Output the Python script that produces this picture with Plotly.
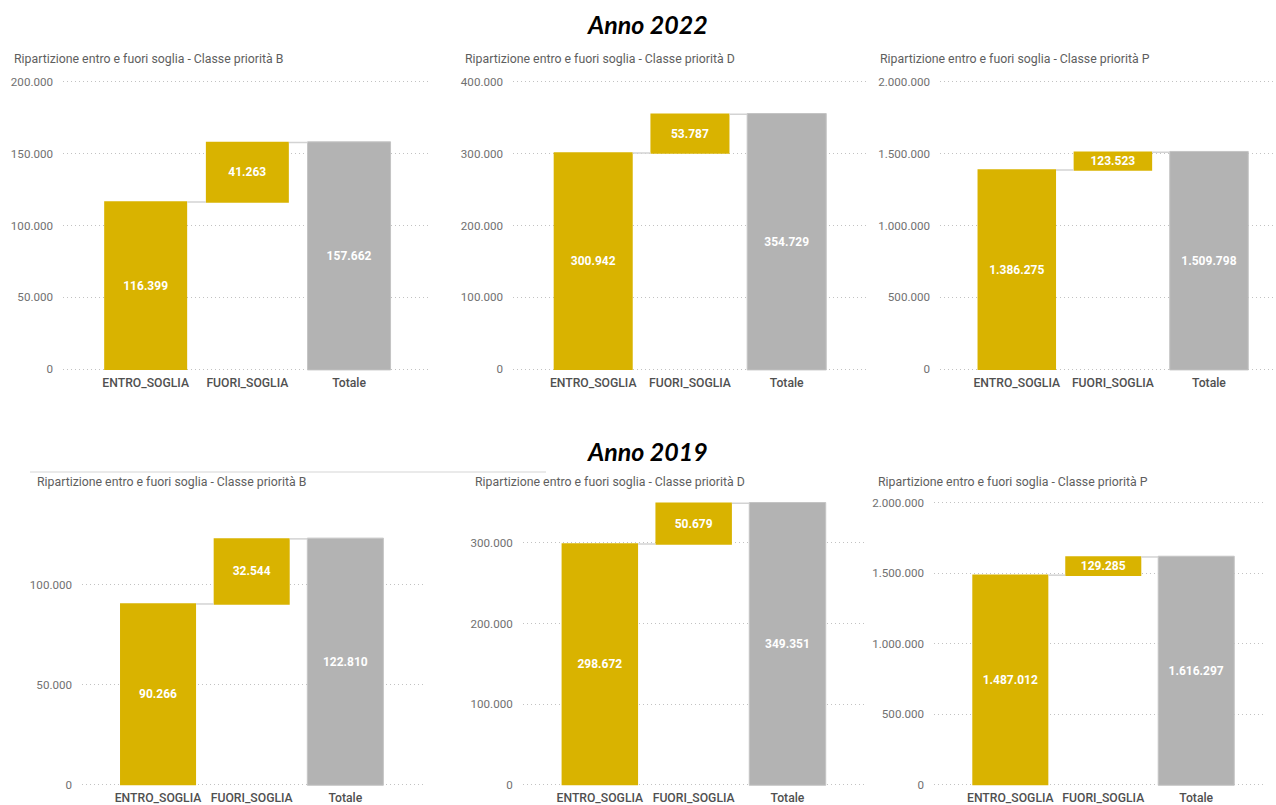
import plotly.graph_objects as go

# ---- data ----------------------------------------------------------------
categories = ["ENTRO_SOGLIA", "FUORI_SOGLIA", "Totale"]
classi = ["B", "D", "P"]

entro_2022 = [116399, 300942, 1386275]
fuori_2022 = [41263, 53787, 123523]

entro_2019 = [90266, 298672, 1487012]
fuori_2019 = [32544, 50679, 129285]

tick_step_2022 = [50000, 100000, 500000]
tick_step_2019 = [50000, 100000, 500000]
y_max_2022 = [200000, 400000, 2000000]
y_max_2019 = [142250, 353400, 2021000]

# ---- styling ---------------------------------------------------------------
W, H = 1276, 805
GOLD = "#D9B300"
GREY = "#B3B3B3"
FONT = "Roboto"

# plot-area boxes in pixels: (left, right, top, bottom), category range, bar width
panel_boxes = [
    (63, 430, 81.7, 369.3, [-0.813, 2.796], 0.816),
    (513, 867, 81.7, 369.3, [-0.829, 2.830], 0.817),
    (940, 1273, 81.7, 369.3, [-0.799, 2.666], 0.817),
    (82, 424, 500, 784.5, [-0.812, 2.840], 0.812),
    (522.7, 865, 500, 784.5, [-0.822, 2.826], 0.815),
    (934, 1264, 500, 784.5, [-0.821, 2.729], 0.818),
]
title_pos = [(12, 59), (463, 59), (878, 59), (35, 481.7), (473, 481.7), (876, 481.7)]


def fx(px):
    return px / W


def fy(py):
    return 1 - py / H


def fmt(v):
    return f"{v:,}".replace(",", ".")


panels = []
for i in range(3):
    panels.append((classi[i], entro_2022[i], fuori_2022[i], y_max_2022[i], tick_step_2022[i]))
for i in range(3):
    panels.append((classi[i], entro_2019[i], fuori_2019[i], y_max_2019[i], tick_step_2019[i]))

fig = go.Figure()
layout_axes = {}
annotations = []

for k, (classe, entro, fuori, ymax, step) in enumerate(panels):
    n = k + 1
    xa = "x" if n == 1 else f"x{n}"
    ya = "y" if n == 1 else f"y{n}"
    left, right, top, bottom, xr, bw = panel_boxes[k]
    totale = entro + fuori

    # a little room above and below so the edge gridlines are drawn
    per_px = ymax / (bottom - top)
    pad_px = 1.5

    fig.add_trace(go.Waterfall(
        x=categories,
        y=[entro, fuori, 0],
        measure=["relative", "relative", "total"],
        text=[fmt(entro), fmt(fuori), fmt(totale)],
        textposition="inside",
        insidetextanchor="middle",
        textfont=dict(family=FONT, size=12, color="white", weight="bold"),
        increasing=dict(marker=dict(color=GOLD)),
        decreasing=dict(marker=dict(color=GOLD)),
        totals=dict(marker=dict(color=GREY, line=dict(color="#C4C4C4", width=1))),
        connector=dict(line=dict(color="#D3D3D3", width=1.5)),
        width=bw,
        hoverinfo="x+y",
        showlegend=False,
        xaxis=xa,
        yaxis=ya,
    ))

    xkey = "xaxis" if n == 1 else f"xaxis{n}"
    ykey = "yaxis" if n == 1 else f"yaxis{n}"
    layout_axes[xkey] = dict(
        domain=[fx(left), fx(right)],
        anchor=ya,
        type="category",
        range=xr,
        automargin=False,
        showgrid=False,
        showline=False,
        zeroline=False,
        ticks="",
        ticklabelstandoff=3,
        tickfont=dict(family=FONT, size=12.2, color="#505050", weight=500),
        fixedrange=True,
    )
    layout_axes[ykey] = dict(
        domain=[fy(bottom + pad_px), fy(top - pad_px)],
        anchor=xa,
        range=[-pad_px * per_px, ymax + pad_px * per_px],
        automargin=False,
        tickmode="linear",
        tick0=0,
        dtick=step,
        tickformat=",d",
        showgrid=True,
        gridcolor="#C2C2C2",
        griddash="1px,3px",
        gridwidth=1,
        zeroline=False,
        showline=False,
        ticks="",
        ticklabelstandoff=9,
        tickfont=dict(family=FONT, size=11.6, color="#707070"),
        fixedrange=True,
    )

    tx, ty = title_pos[k]
    annotations.append(dict(
        text=f"Ripartizione entro e fuori soglia - Classe priorità {classe}",
        x=fx(tx), y=fy(ty), xref="paper", yref="paper",
        xanchor="left", yanchor="middle", showarrow=False,
        font=dict(family=FONT, size=12.3, color="#5E5E5E"),
    ))

# year headers
for label, cx, cy in [("Anno 2022", 647, 24), ("Anno 2019", 647, 451)]:
    annotations.append(dict(
        text=f"<b><i>{label}</i></b>",
        x=fx(cx), y=fy(cy), xref="paper", yref="paper",
        xanchor="center", yanchor="middle", showarrow=False,
        font=dict(family="Lato", size=25, color="#000000"),
    ))

fig.update_layout(
    width=W,
    height=H,
    margin=dict(l=0, r=0, t=0, b=0, autoexpand=False),
    paper_bgcolor="white",
    plot_bgcolor="white",
    separators=",.",
    uniformtext=dict(minsize=12, mode="show"),
    annotations=annotations,
    shapes=[dict(
        type="line", xref="paper", yref="paper",
        x0=fx(30), x1=fx(546), y0=fy(472), y1=fy(472),
        line=dict(color="#E3E3E3", width=1.5),
    )],
    **layout_axes,
)

fig.write_html("out.html")
